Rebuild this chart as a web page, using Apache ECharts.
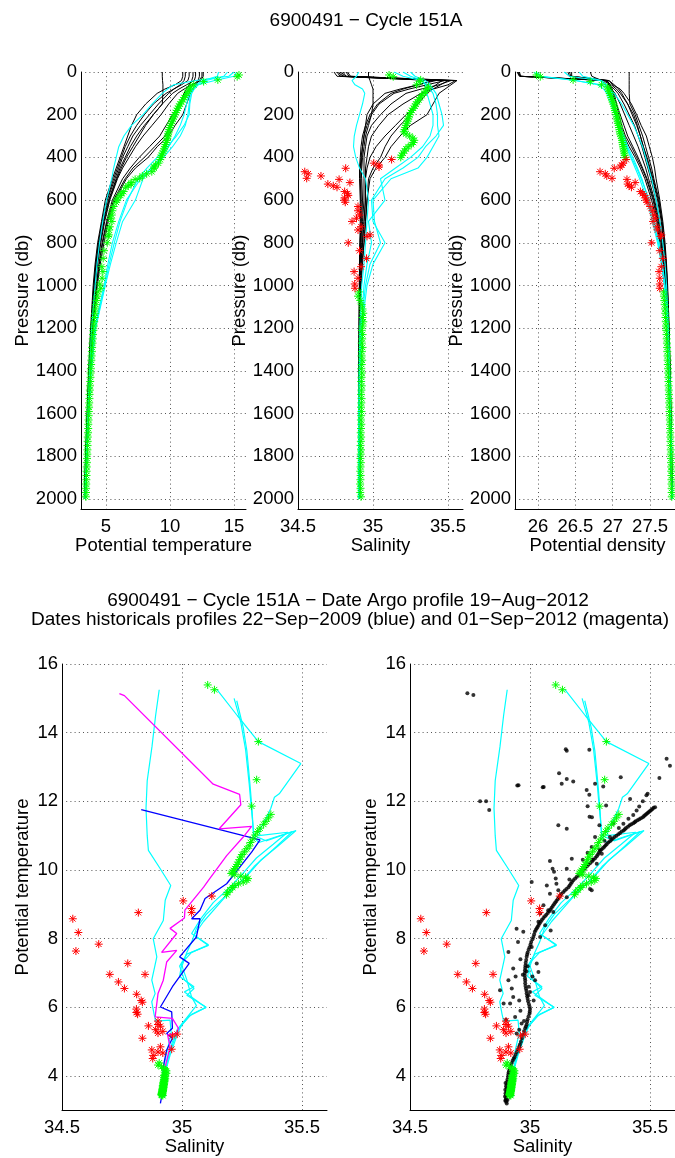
<!DOCTYPE html>
<html><head><meta charset="utf-8">
<script src="https://cdn.jsdelivr.net/npm/echarts@6/dist/echarts.min.js"></script>
<style>html,body{margin:0;padding:0;background:#fff}#chart{width:675px;height:1158px}</style>
</head><body><div id="chart"></div>
<script>
// ---------------- tick labels ----------------
const presTicks = [0,200,400,600,800,1000,1200,1400,1600,1800,2000];
const thetaTicks = [5,10,15];
const salTicks = [34.5,35,35.5];
const densTicks = [26,26.5,27,27.5];
const tsThetaTicks = [4,6,8,10,12,14,16];

// ---------------- historical profiles (top panels) ----------------
const histPres = [0,20,40,60,80,100,150,200,250,300,350,400,450,500,600,700,800,900,1000,1200,1400,1600,1800,2000];
const blackTheta = [
 [11.0,11.0,10.9,10.4,9.6,9.0,8.1,7.4,7.0,6.7,6.4,6.1,5.8,5.5,4.95,4.65,4.35,4.15,4.0,3.8,3.65,3.52,3.4,3.3],
 [11.5,11.5,11.4,10.9,10.3,9.7,8.7,8.0,7.4,6.9,6.5,6.2,5.9,5.6,5.05,4.7,4.4,4.2,4.05,3.83,3.67,3.54,3.42,3.32],
 [12.0,12.0,11.9,11.3,10.7,10.2,9.4,8.7,8.0,7.4,6.9,6.5,6.1,5.8,5.2,4.8,4.5,4.28,4.1,3.86,3.7,3.56,3.44,3.33],
 [12.6,12.6,12.4,11.7,11.1,10.6,9.9,9.3,8.6,7.9,7.3,6.8,6.3,5.9,5.3,4.9,4.6,4.35,4.15,3.9,3.72,3.58,3.45,3.35],
 [9.4,9.4,9.42,9.45,9.45,9.45,9.4,8.7,8.1,7.6,7.1,6.6,6.2,5.85,5.25,4.85,4.55,4.3,4.12,3.87,3.71,3.57,3.44,3.34],
 [12.3,12.3,12.2,11.8,11.5,11.2,10.7,10.2,9.7,9.2,8.4,7.6,6.9,6.3,5.5,5.05,4.7,4.45,4.25,3.92,3.74,3.6,3.47,3.36],
 [11.8,11.8,11.7,11.5,11.3,11.1,10.8,10.5,10.1,9.6,8.8,8.0,7.1,6.5,5.6,5.1,4.75,4.48,4.28,3.93,3.75,3.6,3.47,3.37],
 [12.5,12.5,12.3,12.0,11.8,11.6,11.3,11.0,10.4,9.9,9.0,8.3,7.3,6.6,5.7,5.18,4.85,4.55,4.33,3.96,3.77,3.62,3.48,3.38],
 [11.2,11.2,11.1,10.8,10.3,9.9,9.1,8.4,7.7,7.1,6.7,6.3,6.0,5.7,5.1,4.75,4.45,4.22,4.07,3.84,3.68,3.55,3.43,3.32]
];
const blackSal = [
 [34.74,34.76,35.42,35.30,35.18,35.08,35.0,34.96,34.95,34.94,34.93,34.92,34.915,34.915,34.92,34.92,34.915,34.91,34.91,34.908,34.907,34.906,34.905,34.905],
 [34.78,34.80,35.48,35.36,35.24,35.14,35.04,34.99,34.96,34.94,34.93,34.925,34.92,34.925,34.93,34.925,34.92,34.915,34.912,34.909,34.907,34.906,34.905,34.905],
 [34.80,34.82,35.52,35.44,35.32,35.22,35.12,35.05,34.99,34.96,34.95,34.94,34.94,34.94,34.94,34.93,34.925,34.92,34.915,34.91,34.908,34.907,34.906,34.905],
 [34.83,34.85,35.55,35.5,35.4,35.32,35.2,35.1,35.04,34.99,34.97,34.96,34.95,34.95,34.95,34.94,34.93,34.92,34.918,34.911,34.908,34.907,34.906,34.906],
 [34.97,34.97,34.98,34.99,35.0,35.0,35.0,34.99,34.97,34.95,34.94,34.93,34.925,34.92,34.92,34.92,34.915,34.91,34.91,34.908,34.906,34.905,34.905,34.904],
 [34.79,34.81,35.5,35.45,35.4,35.36,35.3,35.22,35.15,35.08,35.02,34.98,34.96,34.95,34.95,34.94,34.93,34.92,34.915,34.91,34.908,34.907,34.906,34.905],
 [34.77,34.79,35.46,35.42,35.38,35.33,35.28,35.25,35.18,35.12,35.08,35.05,35.0,34.97,34.96,34.95,34.94,34.925,34.918,34.911,34.908,34.907,34.906,34.905],
 [34.82,34.84,35.56,35.52,35.48,35.44,35.4,35.36,35.25,35.18,35.12,35.08,35.02,34.98,34.96,34.95,34.94,34.93,34.92,34.912,34.909,34.907,34.906,34.905],
 [34.76,34.78,35.4,35.3,35.2,35.12,35.03,34.98,34.95,34.93,34.92,34.915,34.91,34.91,34.915,34.915,34.912,34.91,34.909,34.907,34.906,34.905,34.905,34.904]
];
const blackDens = [
 [26.45,26.45,26.95,27.0,27.1,27.15,27.25,27.32,27.38,27.45,27.49,27.53,27.56,27.58,27.63,27.67,27.7,27.72,27.735,27.755,27.77,27.78,27.79,27.8],
 [25.72,25.75,26.9,26.98,27.05,27.1,27.2,27.28,27.33,27.37,27.41,27.45,27.49,27.53,27.6,27.65,27.68,27.71,27.725,27.75,27.765,27.775,27.785,27.795],
 [25.74,25.76,26.88,26.95,27.02,27.07,27.15,27.22,27.29,27.34,27.39,27.43,27.47,27.51,27.58,27.63,27.67,27.7,27.72,27.745,27.76,27.772,27.782,27.792],
 [26.7,26.72,26.85,26.92,26.98,27.03,27.1,27.16,27.22,27.28,27.34,27.39,27.44,27.48,27.56,27.62,27.66,27.69,27.71,27.74,27.758,27.77,27.78,27.79],
 [27.22,27.22,27.22,27.22,27.22,27.22,27.23,27.3,27.35,27.4,27.44,27.48,27.52,27.55,27.62,27.66,27.69,27.715,27.73,27.75,27.765,27.777,27.787,27.797],
 [26.4,26.42,26.9,26.95,26.98,27.0,27.05,27.1,27.15,27.2,27.27,27.34,27.4,27.46,27.55,27.61,27.65,27.685,27.705,27.74,27.756,27.768,27.78,27.79],
 [25.73,25.76,26.92,26.96,26.99,27.02,27.05,27.08,27.12,27.17,27.25,27.32,27.39,27.45,27.54,27.6,27.645,27.68,27.7,27.738,27.755,27.768,27.78,27.79],
 [26.42,26.44,26.93,26.96,26.98,27.0,27.02,27.05,27.1,27.15,27.22,27.3,27.37,27.43,27.52,27.59,27.63,27.67,27.695,27.735,27.752,27.766,27.778,27.788],
 [25.75,25.77,26.95,27.02,27.08,27.12,27.2,27.26,27.32,27.37,27.41,27.46,27.5,27.54,27.61,27.66,27.69,27.715,27.73,27.752,27.767,27.778,27.788,27.798]
];
const cyanTheta = [
 [15.0,14.6,12.0,10.3,9.8,9.4,8.6,7.9,7.0,6.4,6.0,5.8,5.6,5.45,5.05,4.75,4.5,4.3,4.15,3.88,3.72,3.58,3.46,3.34],
 [13.8,13.7,12.6,12.0,11.8,11.6,11.5,11.4,11.2,10.8,10.2,9.5,8.6,7.9,7.3,6.3,5.8,5.35,4.95,4.2,3.85,3.66,3.52,3.4],
 [14.5,14.2,12.8,12.2,11.9,11.7,11.55,11.5,11.1,10.5,9.8,9.0,8.2,7.5,6.7,6.1,5.65,5.25,4.9,4.15,3.83,3.65,3.5,3.38],
 [15.2,15.0,13.5,12.2,11.7,11.5,11.3,11.1,10.8,10.4,9.9,9.3,8.5,7.7,6.6,6.0,5.5,5.15,4.85,4.12,3.82,3.65,3.51,3.39]
];
const cyanSal = [
 [34.905,34.89,34.86,34.88,34.93,34.945,34.93,34.91,34.89,34.875,34.87,34.885,34.91,34.95,34.97,34.96,34.95,34.94,34.925,34.912,34.908,34.906,34.905,34.905],
 [35.2,35.25,35.33,35.36,35.38,35.4,35.42,35.43,35.43,35.44,35.4,35.36,35.3,35.12,35.0,35.01,35.05,34.98,34.95,34.92,34.91,34.907,34.906,34.905],
 [35.25,35.28,35.35,35.38,35.4,35.42,35.44,35.46,35.47,35.42,35.35,35.3,35.2,35.08,34.99,35.0,35.08,35.0,34.96,34.925,34.912,34.908,34.906,34.905],
 [35.14,35.2,35.32,35.35,35.35,35.36,35.38,35.4,35.4,35.38,35.33,35.25,35.15,35.05,35.08,34.97,34.99,34.96,34.94,34.92,34.91,34.907,34.906,34.905]
];
const cyanDens = [
 [25.95,26.0,26.5,26.85,26.95,27.02,27.12,27.2,27.28,27.34,27.4,27.44,27.48,27.52,27.58,27.63,27.67,27.7,27.72,27.745,27.762,27.774,27.785,27.795],
 [26.55,26.6,26.85,26.92,26.96,26.99,27.02,27.05,27.08,27.13,27.18,27.24,27.3,27.36,27.46,27.53,27.6,27.65,27.69,27.735,27.755,27.77,27.78,27.79],
 [26.35,26.42,26.83,26.9,26.95,26.98,27.01,27.04,27.09,27.15,27.2,27.27,27.33,27.39,27.48,27.55,27.61,27.66,27.695,27.738,27.757,27.771,27.782,27.792],
 [25.97,26.05,26.5,26.8,26.88,26.92,26.98,27.03,27.08,27.13,27.19,27.25,27.32,27.38,27.49,27.56,27.62,27.665,27.7,27.74,27.758,27.77,27.78,27.79]
];

// ---------------- Argo float profile (cycle 151A) ----------------
const floatUpperPres = [14,22,37,45,60,70,80,90,100,110,120,130,140,150,160,170,180,190,200,210,220,230,240,250,260,270,280,290,300,310,320,330,340,350,360,370,380,390,400];
const floatUpperTheta = [15.39,15.25,13.74,12.63,11.86,11.62,11.52,11.42,11.33,11.22,11.12,11.02,10.9,10.8,10.7,10.62,10.53,10.45,10.38,10.3,10.23,10.16,10.1,10.04,9.99,9.94,9.9,9.86,9.82,9.79,9.75,9.7,9.65,9.6,9.55,9.49,9.42,9.35,9.28];
const floatUpperSal = [35.107,35.135,35.318,35.311,35.29,35.37,35.36,35.35,35.34,35.325,35.315,35.305,35.295,35.285,35.28,35.27,35.26,35.25,35.245,35.24,35.235,35.23,35.225,35.22,35.215,35.21,35.205,35.22,35.245,35.265,35.275,35.27,35.255,35.235,35.22,35.21,35.2,35.19,35.185];
const floatUpperDens = [25.98,26.03,26.47,26.70,26.85,26.93,26.94,26.95,26.96,26.97,26.98,26.99,27.0,27.01,27.02,27.025,27.03,27.04,27.05,27.055,27.06,27.065,27.07,27.08,27.085,27.09,27.095,27.1,27.11,27.12,27.125,27.13,27.135,27.14,27.145,27.15,27.155,27.16,27.165];
const floatBadPres = [410,427,436,445,451,467,477,487,498,503,518,525,533,540,560,570,578,590,600,610,630,650,670,685,700,725,740,763,770,800,837,873,912,935,966,993,1013];
const floatBadTheta = [9.24,9.1,8.88,8.76,8.76,8.58,8.18,7.84,7.64,7.28,6.96,6.96,6.74,6.55,6.38,6.2,6.15,5.95,5.85,5.8,5.6,5.5,5.45,5.35,5.46,5.3,5.25,5.22,5.17,5.1,4.85,4.78,4.67,4.76,4.7,4.51,4.6];
const floatBadSal = [35.124,35.005,35.04,35.04,34.818,34.545,34.568,34.653,34.558,34.774,34.846,34.699,34.735,34.76,34.811,34.83,34.835,34.81,34.81,34.815,34.9,34.9,34.91,34.89,34.86,34.92,34.9,34.98,34.96,34.835,34.91,34.957,34.92,34.874,34.9,34.878,34.88];
const floatBadDens = [27.18,27.14,27.12,27.1,27.02,26.83,26.9,26.92,26.99,27.19,27.3,27.2,27.22,27.25,27.37,27.4,27.42,27.44,27.45,27.46,27.5,27.53,27.55,27.57,27.54,27.59,27.6,27.65,27.64,27.52,27.63,27.67,27.65,27.62,27.63,27.63,27.63];
const floatDeepPres = [1030,1050,1070,1090,1110,1130,1150,1170,1190,1210,1230,1250,1270,1290,1310,1330,1350,1370,1390,1410,1430,1450,1470,1490,1510,1530,1550,1570,1590,1610,1630,1650,1670,1690,1710,1730,1750,1770,1790,1810,1830,1850,1870,1890,1910,1930,1950,1970,1990];
const floatDeepTheta = [4.38,4.32,4.27,4.22,4.18,4.15,4.11,4.08,4.05,4.02,3.99,3.97,3.95,3.92,3.9,3.88,3.86,3.84,3.82,3.8,3.79,3.77,3.75,3.74,3.72,3.71,3.69,3.68,3.66,3.65,3.64,3.62,3.61,3.6,3.58,3.57,3.56,3.55,3.54,3.52,3.51,3.5,3.49,3.48,3.47,3.46,3.45,3.44,3.43];
const floatDeepSal = [34.905,34.9,34.915,34.925,34.93,34.935,34.93,34.935,34.93,34.925,34.93,34.928,34.925,34.93,34.926,34.924,34.928,34.925,34.922,34.926,34.924,34.921,34.925,34.923,34.92,34.924,34.922,34.92,34.923,34.921,34.919,34.922,34.92,34.918,34.921,34.919,34.917,34.92,34.918,34.916,34.919,34.917,34.915,34.918,34.916,34.914,34.917,34.915,34.92];
const floatDeepDens = [27.68,27.685,27.69,27.695,27.70,27.703,27.706,27.71,27.713,27.716,27.72,27.722,27.725,27.727,27.73,27.733,27.735,27.737,27.74,27.742,27.744,27.746,27.748,27.75,27.752,27.754,27.756,27.758,27.76,27.762,27.764,27.766,27.767,27.769,27.771,27.772,27.774,27.776,27.777,27.779,27.78,27.782,27.783,27.785,27.786,27.787,27.788,27.789,27.79];

// ---------------- theta-S historical lines [salinity, theta] ----------------
const tsCyan = [
 [[34.905,15.25],[34.89,14.5],[34.875,13.6],[34.855,12.6],[34.85,11.8],[34.855,11.0],[34.86,10.57],[34.908,10.05],[34.953,9.55],[34.93,9.12],[34.922,8.53],[34.88,8.0],[34.895,7.47],[34.874,6.79],[34.888,6.4],[34.874,6.16],[34.883,5.82],[34.89,5.6],[34.95,5.63],[34.955,5.25],[34.94,4.8],[34.925,4.3],[34.915,3.8],[34.92,3.4]],
 [[35.144,15.27],[35.23,14.5],[35.318,13.74],[35.495,13.1],[35.405,12.22],[35.385,12.12],[35.37,11.8],[35.35,11.5],[35.33,11.25],[35.32,11.0],[35.44,11.1],[35.38,10.75],[35.31,10.35],[35.26,9.95],[35.2,9.5],[35.13,9.05],[35.08,8.6],[35.04,8.15],[35.11,7.8],[35.02,7.55],[34.99,7.2],[35.01,6.8],[35.05,6.55],[35.02,6.35],[35.1,6.0],[35.03,5.75],[34.99,5.4],[34.97,5.0],[34.95,4.6],[34.93,4.1],[34.925,3.5]],
 [[35.217,15.0],[35.245,14.3],[35.265,13.5],[35.28,12.5],[35.29,11.7],[35.3,11.0],[35.35,10.85],[35.475,11.15],[35.4,10.7],[35.33,10.3],[35.28,9.9],[35.22,9.5],[35.16,9.1],[35.1,8.7],[35.06,8.3],[35.04,7.9],[35.02,7.6],[35.0,7.2],[35.02,6.8],[35.03,6.55],[35.04,6.3],[35.06,6.05],[35.02,5.7],[34.98,5.35],[34.96,5.0],[34.94,4.5],[34.93,4.0],[34.93,3.4]],
 [[35.228,14.93],[35.255,14.15],[35.27,13.48],[35.283,12.5],[35.292,11.73],[35.298,10.96],[35.32,10.8],[35.46,11.12],[35.38,10.6],[35.3,10.1],[35.25,9.7],[35.19,9.3],[35.14,8.9],[35.09,8.5],[35.05,8.1],[35.11,7.82],[35.04,7.6],[35.0,7.3],[34.99,6.9],[35.05,6.6],[35.01,6.45],[35.08,6.1],[35.1,6.0],[35.04,5.8],[35.0,5.5],[34.97,5.1],[34.95,4.7],[34.93,4.2],[34.925,3.6]]
];
const tsBlue = [[34.83,11.76],[35.325,10.88],[35.29,10.52],[35.186,9.6],[35.096,9.17],[35.075,8.83],[35.04,8.58],[35.075,8.58],[35.06,8.05],[34.99,7.47],[35.03,7.28],[34.96,6.6],[34.91,6.01],[34.957,5.87],[34.96,5.39],[34.936,5.24],[34.96,5.1],[34.936,4.76],[34.922,4.27],[34.92,3.6],[34.91,3.2]];
const tsMagenta = [[34.739,15.14],[34.76,15.08],[35.13,12.5],[35.24,12.2],[35.245,11.9],[35.155,11.2],[35.29,11.27],[35.255,10.96],[35.186,10.42],[35.11,9.7],[35.09,9.5],[35.012,8.83],[35.01,8.6],[34.95,8.3],[34.978,8.15],[34.915,7.6],[34.978,7.66],[34.936,7.32],[34.922,6.79],[34.9,6.4],[34.888,5.72],[34.96,5.68],[34.985,5.39],[34.978,5.24],[34.94,5.2],[34.95,4.85],[34.93,4.27],[34.92,3.5],[34.92,3.4]];

// ---------------- reference data points (black dots) [salinity, theta] ----------------
const refDotsCore = [[35.521,11.83],[35.51,11.78],[35.5,11.72],[35.49,11.66],[35.48,11.6],[35.47,11.54],[35.455,11.48],[35.44,11.42],[35.43,11.36],[35.415,11.3],[35.4,11.22],[35.39,11.15],[35.375,11.08],[35.36,11.0],[35.345,10.92],[35.333,10.84],[35.32,10.76],[35.31,10.68],[35.298,10.6],[35.287,10.5],[35.278,10.4],[35.265,10.3],[35.25,10.2],[35.236,10.1],[35.222,10.0],[35.21,9.9],[35.195,9.8],[35.18,9.7],[35.17,9.6],[35.16,9.5],[35.145,9.4],[35.13,9.3],[35.12,9.2],[35.11,9.1],[35.1,9.0],[35.09,8.9],[35.08,8.8],[35.068,8.7],[35.056,8.6],[35.045,8.5],[35.036,8.4],[35.028,8.3],[35.02,8.2],[35.014,8.05],[35.005,7.9],[34.998,7.75],[34.99,7.6],[34.986,7.47],[34.982,7.3],[34.98,7.15],[34.978,7.0],[34.979,6.85],[34.98,6.7],[34.983,6.55],[34.986,6.4],[34.99,6.25],[34.995,6.1],[35.0,5.95],[34.998,5.82],[34.99,5.65],[34.986,5.5],[34.98,5.39],[34.97,5.2],[34.962,5.0],[34.955,4.85],[34.945,4.7],[34.935,4.55],[34.928,4.45],[34.92,4.3],[34.913,4.15],[34.91,4.05],[34.906,3.9],[34.904,3.75],[34.903,3.65],[34.902,3.55],[34.9,3.45],[34.9,3.35],[34.901,3.25],[34.903,3.2],[34.897,3.6],[34.898,3.8],[34.899,3.3]];
const refDotsBand = [[35.515,11.81],[35.505,11.75],[35.495,11.69],[35.485,11.63],[35.475,11.57],[35.462,11.51],[35.448,11.45],[35.436,11.39],[35.422,11.33],[35.408,11.26],[35.395,11.19],[35.382,11.12],[35.368,11.04],[35.352,10.96],[35.339,10.88],[35.326,10.8],[35.315,10.72],[35.304,10.64],[35.292,10.55],[35.283,10.45],[35.272,10.35],[35.258,10.25],[35.243,10.15],[35.229,10.05],[35.216,9.95],[35.202,9.85],[35.188,9.75],[35.175,9.65],[35.165,9.55],[35.152,9.45],[35.138,9.35],[35.125,9.25],[35.115,9.15],[35.105,9.05],[35.095,8.95],[35.085,8.85],[35.074,8.75],[35.062,8.65],[35.05,8.55],[35.04,8.45],[35.032,8.35],[35.024,8.25],[35.017,8.12],[35.01,7.98],[35.002,7.83],[34.994,7.68],[34.988,7.54],[34.984,7.38],[34.981,7.22],[34.979,7.08],[34.978,6.93],[34.98,6.78],[34.981,6.62],[34.985,6.48],[34.988,6.32],[34.992,6.18],[34.998,6.02],[34.999,5.88],[34.994,5.74],[34.988,5.58],[34.983,5.44],[34.975,5.3],[34.966,5.1],[34.958,4.92],[34.95,4.78],[34.94,4.62],[34.932,4.5],[34.924,4.38],[34.916,4.22],[34.911,4.1],[34.908,3.98],[34.905,3.83],[34.9,3.7],[34.898,3.5],[34.896,3.4],[34.897,3.28],[34.905,3.5],[34.906,3.3]];
const refDotsScatter = [[34.739,15.15],[34.764,15.1],[35.149,13.52],[35.153,13.47],[35.247,13.5],[35.569,13.24],[35.583,13.04],[34.947,12.46],[34.952,12.47],[35.053,12.41],[35.057,12.42],[35.121,12.82],[35.153,12.65],[35.132,12.51],[35.18,12.58],[35.236,12.33],[35.271,12.51],[35.305,12.43],[35.378,12.7],[35.539,12.68],[34.792,12.0],[34.817,12.0],[34.83,11.75],[35.247,12.19],[35.24,11.86],[35.317,11.88],[35.248,11.55],[35.258,11.54],[35.118,11.3],[35.153,11.2],[35.289,11.3],[35.417,12.07],[35.49,12.22],[35.485,12.18],[35.47,12.0],[35.455,11.85],[35.444,11.73],[35.43,11.6],[35.41,11.49],[35.389,11.35],[35.37,11.22],[35.347,11.35],[35.333,10.96],[35.31,10.85],[35.29,10.6],[35.299,10.47],[35.278,10.18],[35.26,10.3],[35.271,10.96],[35.257,10.67],[35.24,10.5],[35.22,10.3],[35.083,10.26],[35.094,10.04],[35.1,9.95],[35.107,9.75],[35.11,9.6],[35.118,9.41],[35.153,9.21],[35.174,10.33],[35.153,10.04],[35.164,9.72],[35.257,9.41],[35.25,9.45],[35.007,9.65],[35.07,9.55],[35.083,9.31],[35.056,8.97],[35.076,8.83],[35.097,8.78],[35.042,8.73],[35.035,8.49],[35.063,8.39],[35.086,8.24],[34.944,8.29],[34.972,8.2],[35.042,8.05],[35.007,7.76],[34.91,7.61],[35.028,7.28],[34.99,7.2],[34.985,7.05],[34.93,7.13],[35.035,7.03],[34.91,6.79],[35.021,6.79],[34.924,6.55],[34.995,6.6],[35.0,6.45],[34.875,6.5],[34.993,6.35],[34.917,6.11],[34.89,6.11],[34.938,5.72],[34.96,5.9],[34.9,5.64],[34.965,5.53],[34.944,5.24],[34.975,5.6],[34.955,5.35],[34.95,7.9],[34.96,7.4],[34.97,6.95],[34.955,6.2],[35.01,6.9],[35.015,6.2],[34.94,6.9],[34.93,6.3]];

// ---------------- build chart ----------------
const FF = '"Liberation Sans", Arial, Helvetica, sans-serif';
const FS = 18.5;
const STAR = 'path://M0,-10L0,10M-10,0L10,0M-7.07,-7.07L7.07,7.07M-7.07,7.07L7.07,-7.07';
const pairs = (xs, ys) => xs.map((x, i) => [x, ys[i]]);

const grids = [
  {left:81, top:72, width:165, height:437},
  {left:298, top:72, width:165, height:437},
  {left:515, top:72, width:165, height:437},
  {left:62, top:664, width:265, height:446},
  {left:410, top:664, width:265, height:446}
].map(g => Object.assign(g, {containLabel:false, outerBoundsMode:'none'}));

const gridLine = {show:true, lineStyle:{color:'#555', width:1, type:[1,3.2]}};
const plain = v => String(v);
function mkX(gi, min, max, ticks, name) {
  return {type:'value', gridIndex:gi, min, max, position:'bottom',
    axisLine:{show:true, onZero:false, lineStyle:{color:'#000', width:1}},
    axisTick:{show:false, customValues:ticks},
    axisLabel:{customValues:ticks, formatter:plain, color:'#000', fontSize:FS, fontFamily:FF, margin:8},
    splitLine:gridLine,
    name, nameLocation:'middle', nameGap:27,
    nameTextStyle:{color:'#000', fontSize:FS, fontFamily:FF}};
}
function mkY(gi, min, max, ticks, name, inverse, gap) {
  return {type:'value', gridIndex:gi, min, max, inverse, position:'left',
    axisLine:{show:true, onZero:false, lineStyle:{color:'#000', width:1}},
    axisTick:{show:false, customValues:ticks},
    axisLabel:{customValues:ticks, formatter:plain, color:'#000', fontSize:FS, fontFamily:FF, margin:4},
    splitLine:gridLine,
    name, nameLocation:'middle', nameGap:gap,
    nameTextStyle:{color:'#000', fontSize:FS, fontFamily:FF}};
}

const series = [];
function line(gi, data, color, z, w) {
  series.push({type:'line', xAxisIndex:gi, yAxisIndex:gi, data, symbol:'none', showSymbol:false,
    lineStyle:{color, width:w||1, opacity:1}, itemStyle:{color}, silent:true, animation:false, z:z||2});
}
function stars(gi, data, color, size) {
  series.push({type:'scatter', xAxisIndex:gi, yAxisIndex:gi, data, symbol:STAR, symbolSize:size||8,
    itemStyle:{color:'none', borderColor:color, borderWidth:1, opacity:1}, silent:true, animation:false, z:6});
}
function dots(gi, data) {
  series.push({type:'scatter', xAxisIndex:gi, yAxisIndex:gi, data, symbol:'circle', symbolSize:4,
    itemStyle:{color:'#000'}, silent:true, animation:false, z:4});
}

const topVars = [[blackTheta, cyanTheta], [blackSal, cyanSal], [blackDens, cyanDens]];
topVars.forEach(([bk, cy], gi) => {
  bk.forEach(arr => line(gi, pairs(arr, histPres), '#000000', 2, 1));
  cy.forEach(arr => line(gi, pairs(arr, histPres), '#00ffff', 3, 1.1));
});
stars(0, pairs(floatUpperTheta, floatUpperPres).concat(pairs(floatBadTheta, floatBadPres), pairs(floatDeepTheta, floatDeepPres)), '#00ff00');
stars(1, pairs(floatUpperSal, floatUpperPres).concat(pairs(floatDeepSal, floatDeepPres)), '#00ff00');
stars(1, pairs(floatBadSal, floatBadPres), '#ff0000');
stars(2, pairs(floatUpperDens, floatUpperPres).concat(pairs(floatDeepDens, floatDeepPres)), '#00ff00');
stars(2, pairs(floatBadDens, floatBadPres), '#ff0000');

tsCyan.forEach(l => line(3, l, '#00ffff', 2, 1.2));
line(3, tsBlue, '#0000ff', 3, 1.3);
line(3, tsMagenta, '#ff00ff', 3, 1.3);
stars(3, pairs(floatUpperSal, floatUpperTheta).concat(pairs(floatDeepSal, floatDeepTheta)), '#00ff00');
stars(3, pairs(floatBadSal, floatBadTheta), '#ff0000');

tsCyan.forEach(l => line(4, l, '#00ffff', 2, 1.2));
dots(4, refDotsCore.concat(refDotsBand, refDotsScatter));
stars(4, pairs(floatUpperSal, floatUpperTheta).concat(pairs(floatDeepSal, floatDeepTheta)), '#00ff00');
stars(4, pairs(floatBadSal, floatBadTheta), '#ff0000');

const chart = echarts.init(document.getElementById('chart'), null, {renderer:'canvas'});
chart.setOption({
  backgroundColor:'#fff',
  animation:false,
  grid:grids,
  xAxis:[
    mkX(0, 3.05, 15.94, thetaTicks, 'Potential temperature'),
    mkX(1, 34.5, 35.6, salTicks, 'Salinity'),
    mkX(2, 25.692, 27.9, densTicks, 'Potential density'),
    mkX(3, 34.5, 35.604, salTicks, 'Salinity'),
    mkX(4, 34.5, 35.604, salTicks, 'Salinity')
  ],
  yAxis:[
    mkY(0, 0, 2047, presTicks, 'Pressure (db)', true, 42),
    mkY(1, 0, 2047, presTicks, 'Pressure (db)', true, 42),
    mkY(2, 0, 2047, presTicks, 'Pressure (db)', true, 42),
    mkY(3, 3.01, 16, tsThetaTicks, 'Potential temperature', false, 30),
    mkY(4, 3.01, 16, tsThetaTicks, 'Potential temperature', false, 30)
  ],
  series,
  graphic:[
    {type:'text', x:366, y:21, style:{text:'6900491 − Cycle 151A', fill:'#000', font:'19px ' + FF, align:'center', verticalAlign:'middle'}},
    {type:'text', x:348, y:601, style:{text:'6900491 − Cycle 151A − Date Argo profile 19−Aug−2012', fill:'#000', font:'19px ' + FF, align:'center', verticalAlign:'middle'}},
    {type:'text', x:350, y:620, style:{text:'Dates historicals profiles 22−Sep−2009 (blue) and 01−Sep−2012 (magenta)', fill:'#000', font:'19px ' + FF, align:'center', verticalAlign:'middle'}}
  ]
});
</script></body></html>
